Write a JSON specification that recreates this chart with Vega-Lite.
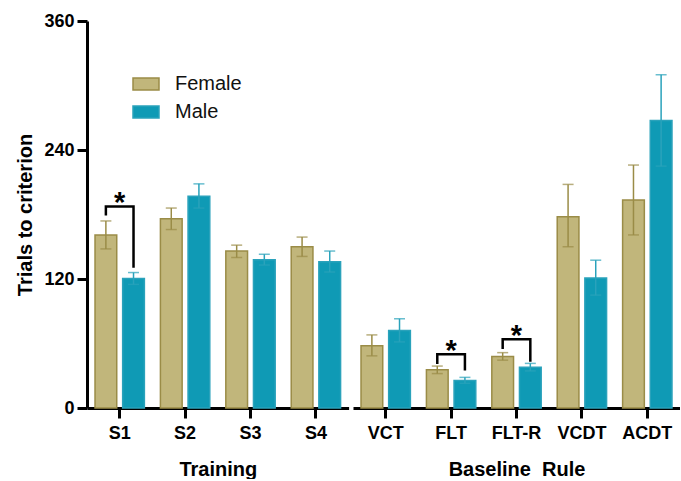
{
  "$schema": "https://vega.github.io/schema/vega-lite/v6.json",
  "padding": {"left": 15, "top": 12, "right": 0, "bottom": 0},
  "autosize": {"type": "pad"},
  "datasets": {
    "bars": [
      {"panel": "Training", "cat": "S1", "sex": "Female", "mean": 161, "lo": 148, "hi": 174},
      {"panel": "Training", "cat": "S1", "sex": "Male", "mean": 120.5, "lo": 115, "hi": 126},
      {"panel": "Training", "cat": "S2", "sex": "Female", "mean": 176, "lo": 166, "hi": 186},
      {"panel": "Training", "cat": "S2", "sex": "Male", "mean": 197, "lo": 186, "hi": 208.5},
      {"panel": "Training", "cat": "S3", "sex": "Female", "mean": 146, "lo": 140, "hi": 151.5},
      {"panel": "Training", "cat": "S3", "sex": "Male", "mean": 138, "lo": 133, "hi": 143},
      {"panel": "Training", "cat": "S4", "sex": "Female", "mean": 150, "lo": 141, "hi": 159},
      {"panel": "Training", "cat": "S4", "sex": "Male", "mean": 136, "lo": 126.5, "hi": 146},
      {"panel": "Baseline", "cat": "VCT", "sex": "Female", "mean": 58, "lo": 48.5, "hi": 68},
      {"panel": "Baseline", "cat": "VCT", "sex": "Male", "mean": 72, "lo": 61.5, "hi": 83},
      {"panel": "Baseline", "cat": "FLT", "sex": "Female", "mean": 35.5, "lo": 32, "hi": 39},
      {"panel": "Baseline", "cat": "FLT", "sex": "Male", "mean": 25.5, "lo": 23, "hi": 28.5},
      {"panel": "Baseline", "cat": "FLT-R", "sex": "Female", "mean": 48, "lo": 44.5, "hi": 51.5},
      {"panel": "Baseline", "cat": "FLT-R", "sex": "Male", "mean": 38, "lo": 34.5, "hi": 41.5},
      {"panel": "Baseline", "cat": "VCDT", "sex": "Female", "mean": 178, "lo": 150, "hi": 208},
      {"panel": "Baseline", "cat": "VCDT", "sex": "Male", "mean": 121, "lo": 105, "hi": 137.5},
      {"panel": "Baseline", "cat": "ACDT", "sex": "Female", "mean": 193.5, "lo": 161, "hi": 226},
      {"panel": "Baseline", "cat": "ACDT", "sex": "Male", "mean": 267.5, "lo": 225, "hi": 310}
    ],
    "brackets": [
      {"panel": "Training", "cat": "S1", "sex": "Female", "level": 179, "ord": 1},
      {"panel": "Training", "cat": "S1", "sex": "Female", "level": 187.5, "ord": 2},
      {"panel": "Training", "cat": "S1", "sex": "Male", "level": 187.5, "ord": 3},
      {"panel": "Training", "cat": "S1", "sex": "Male", "level": 130.5, "ord": 4},
      {"panel": "Baseline", "cat": "FLT", "sex": "Female", "level": 41, "ord": 1},
      {"panel": "Baseline", "cat": "FLT", "sex": "Female", "level": 50, "ord": 2},
      {"panel": "Baseline", "cat": "FLT", "sex": "Male", "level": 50, "ord": 3},
      {"panel": "Baseline", "cat": "FLT", "sex": "Male", "level": 35, "ord": 4},
      {"panel": "Baseline", "cat": "FLT-R", "sex": "Female", "level": 55, "ord": 1},
      {"panel": "Baseline", "cat": "FLT-R", "sex": "Female", "level": 64, "ord": 2},
      {"panel": "Baseline", "cat": "FLT-R", "sex": "Male", "level": 64, "ord": 3},
      {"panel": "Baseline", "cat": "FLT-R", "sex": "Male", "level": 43, "ord": 4}
    ]
  },
  "config": {
    "view": {"stroke": null},
    "font": "Liberation Sans",
    "concat": {"spacing": 4},
    "axis": {
      "grid": false,
      "domainColor": "#000", "domainWidth": 3, "domainCap": "butt",
      "tickColor": "#000", "tickWidth": 3, "tickSize": 10,
      "labelFont": "Liberation Sans", "labelFontSize": 18, "labelFontWeight": "bold", "labelColor": "#000",
      "titleFont": "Liberation Sans", "titleFontSize": 20, "titleFontWeight": "bold", "titleColor": "#000"
    }
  },
  "resolve": {"scale": {"x": "independent", "y": "independent"}},
  "hconcat": [
    {
      "width": 261.6,
      "height": 387,
      "layer": [
        {
          "data": {"name": "bars"},
          "transform": [{"filter": "datum.panel === 'Training'"}],
          "mark": {"type": "bar", "strokeWidth": 1.5},
          "encoding": {
            "x": {"field": "cat", "type": "nominal", "scale": {"domain": ["S1", "S2", "S3", "S4"], "paddingInner": 0, "paddingOuter": 0}, "axis": {"title": "Training", "labelAngle": 0, "labelPadding": 6, "titlePadding": 17}},
            "xOffset": {"field": "sex", "type": "nominal", "scale": {"domain": ["Female", "Male"], "paddingInner": 0.214, "paddingOuter": 0.29}},
            "y": {"field": "mean", "type": "quantitative", "scale": {"domain": [0, 360], "nice": false}, "axis": {"values": [0, 120, 240, 360], "title": "Trials to criterion", "labelPadding": 3, "titlePadding": 8}},
            "color": {"field": "sex", "type": "nominal", "scale": {"domain": ["Female", "Male"], "range": ["#C1B67B", "#0F9AB5"]},
              "legend": {"title": null, "orient": "none", "legendX": 45, "legendY": 49, "padding": 0, "symbolType": "M-1,-0.46L1,-0.46L1,0.46L-1,0.46Z", "symbolSize": 676, "symbolStrokeWidth": 1.5, "labelFontSize": 20, "labelFont": "Liberation Sans", "labelColor": "#111", "labelOffset": 15, "rowPadding": 4,
                "encode": {"symbols": {"update": {"stroke": {"scale": "stroke", "field": "value"}}}}}},
            "stroke": {"field": "sex", "type": "nominal", "scale": {"domain": ["Female", "Male"], "range": ["#9A8C47", "#2AA2BB"]}, "legend": null}
          }
        },
        {
          "data": {"name": "bars"},
          "transform": [{"filter": "datum.panel === 'Training'"}],
          "mark": {"type": "rule", "strokeWidth": 1.5},
          "encoding": {
            "x": {"field": "cat", "type": "nominal"},
            "xOffset": {"field": "sex", "type": "nominal"},
            "y": {"field": "lo", "type": "quantitative"},
            "y2": {"field": "hi"},
            "stroke": {"field": "sex", "type": "nominal", "legend": null}
          }
        },
        {
          "data": {"name": "bars"},
          "transform": [{"filter": "datum.panel === 'Training'"}],
          "mark": {"type": "tick", "size": 11, "thickness": 1.5},
          "encoding": {
            "x": {"field": "cat", "type": "nominal"},
            "xOffset": {"field": "sex", "type": "nominal"},
            "y": {"field": "hi", "type": "quantitative"},
            "fill": {"field": "sex", "type": "nominal", "scale": {"domain": ["Female", "Male"], "range": ["#9A8C47", "#2AA2BB"]}, "legend": null}
          }
        },
        {
          "data": {"name": "bars"},
          "transform": [{"filter": "datum.panel === 'Training'"}],
          "mark": {"type": "tick", "size": 11, "thickness": 1.5},
          "encoding": {
            "x": {"field": "cat", "type": "nominal"},
            "xOffset": {"field": "sex", "type": "nominal"},
            "y": {"field": "lo", "type": "quantitative"},
            "fill": {"field": "sex", "type": "nominal", "legend": null}
          }
        },
        {
          "data": {"name": "brackets"},
          "transform": [{"filter": "datum.panel === 'Training'"}],
          "mark": {"type": "line", "color": "#000", "strokeWidth": 2.5, "strokeJoin": "miter"},
          "encoding": {
            "x": {"field": "cat", "type": "nominal"},
            "xOffset": {"field": "sex", "type": "nominal"},
            "y": {"field": "level", "type": "quantitative"},
            "detail": {"field": "cat"},
            "order": {"field": "ord", "type": "quantitative"}
          }
        },
        {
          "data": {"name": "brackets"},
          "transform": [{"filter": "datum.panel === 'Training' && datum.ord === 2"}],
          "mark": {"type": "text", "text": "*", "fontSize": 29, "fontWeight": "bold", "font": "Liberation Sans", "baseline": "alphabetic", "dy": 6, "color": "#000"},
          "encoding": {
            "x": {"field": "cat", "type": "nominal"},
            "y": {"field": "level", "type": "quantitative"}
          }
        }
      ]
    },
    {
      "width": 327,
      "height": 387,
      "layer": [
        {
          "data": {"name": "bars"},
          "transform": [{"filter": "datum.panel === 'Baseline'"}],
          "mark": {"type": "bar", "strokeWidth": 1.5},
          "encoding": {
            "x": {"field": "cat", "type": "nominal", "scale": {"domain": ["VCT", "FLT", "FLT-R", "VCDT", "ACDT"], "paddingInner": 0, "paddingOuter": 0}, "axis": {"title": "Baseline\u00a0 Rule", "labelAngle": 0, "labelPadding": 6, "titlePadding": 17}},
            "xOffset": {"field": "sex", "type": "nominal", "scale": {"domain": ["Female", "Male"], "paddingInner": 0.214, "paddingOuter": 0.29}},
            "y": {"field": "mean", "type": "quantitative", "scale": {"domain": [0, 360], "nice": false}, "axis": null},
            "color": {"field": "sex", "type": "nominal", "scale": {"domain": ["Female", "Male"], "range": ["#C1B67B", "#0F9AB5"]}},
            "stroke": {"field": "sex", "type": "nominal", "scale": {"domain": ["Female", "Male"], "range": ["#9A8C47", "#2AA2BB"]}, "legend": null}
          }
        },
        {
          "data": {"name": "bars"},
          "transform": [{"filter": "datum.panel === 'Baseline'"}],
          "mark": {"type": "rule", "strokeWidth": 1.5},
          "encoding": {
            "x": {"field": "cat", "type": "nominal"},
            "xOffset": {"field": "sex", "type": "nominal"},
            "y": {"field": "lo", "type": "quantitative"},
            "y2": {"field": "hi"},
            "stroke": {"field": "sex", "type": "nominal", "legend": null}
          }
        },
        {
          "data": {"name": "bars"},
          "transform": [{"filter": "datum.panel === 'Baseline'"}],
          "mark": {"type": "tick", "size": 11, "thickness": 1.5},
          "encoding": {
            "x": {"field": "cat", "type": "nominal"},
            "xOffset": {"field": "sex", "type": "nominal"},
            "y": {"field": "hi", "type": "quantitative"},
            "fill": {"field": "sex", "type": "nominal", "scale": {"domain": ["Female", "Male"], "range": ["#9A8C47", "#2AA2BB"]}, "legend": null}
          }
        },
        {
          "data": {"name": "bars"},
          "transform": [{"filter": "datum.panel === 'Baseline'"}],
          "mark": {"type": "tick", "size": 11, "thickness": 1.5},
          "encoding": {
            "x": {"field": "cat", "type": "nominal"},
            "xOffset": {"field": "sex", "type": "nominal"},
            "y": {"field": "lo", "type": "quantitative"},
            "fill": {"field": "sex", "type": "nominal", "legend": null}
          }
        },
        {
          "data": {"name": "brackets"},
          "transform": [{"filter": "datum.panel === 'Baseline'"}],
          "mark": {"type": "line", "color": "#000", "strokeWidth": 2.5, "strokeJoin": "miter"},
          "encoding": {
            "x": {"field": "cat", "type": "nominal"},
            "xOffset": {"field": "sex", "type": "nominal"},
            "y": {"field": "level", "type": "quantitative"},
            "detail": {"field": "cat"},
            "order": {"field": "ord", "type": "quantitative"}
          }
        },
        {
          "data": {"name": "brackets"},
          "transform": [{"filter": "datum.panel === 'Baseline' && datum.ord === 2"}],
          "mark": {"type": "text", "text": "*", "fontSize": 29, "fontWeight": "bold", "font": "Liberation Sans", "baseline": "alphabetic", "dy": 6, "color": "#000"},
          "encoding": {
            "x": {"field": "cat", "type": "nominal"},
            "y": {"field": "level", "type": "quantitative"}
          }
        }
      ]
    }
  ]
}
